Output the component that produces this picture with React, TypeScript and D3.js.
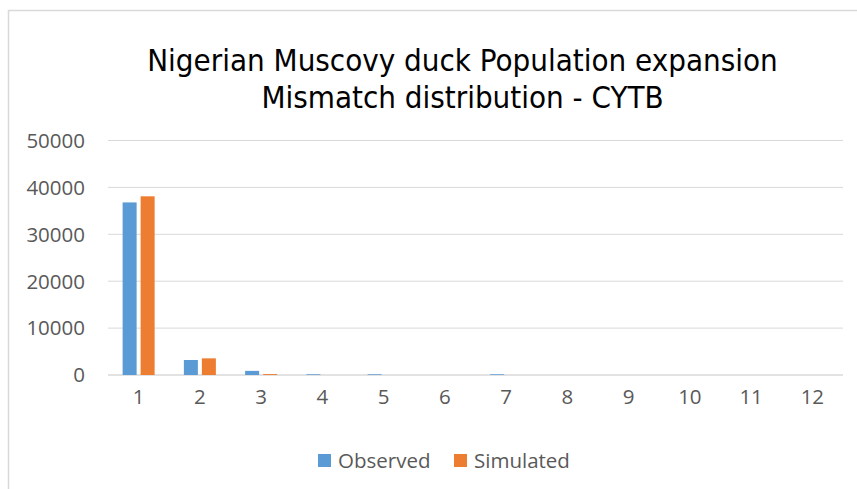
import React from "react";
import * as d3 from "d3";

const categories = ["1", "2", "3", "4", "5", "6", "7", "8", "9", "10", "11", "12"];
const observed = [36800, 3200, 880, 150, 150, 0, 150, 0, 0, 0, 0, 0];
const simulated = [38100, 3550, 200, 0, 0, 0, 0, 0, 0, 0, 0, 0];
const yTicks = [0, 10000, 20000, 30000, 40000, 50000];
const seriesNames = ["Observed", "Simulated"];
const colors = ["#5b9bd5", "#ed7d31"];
const titleLines = ["Nigerian Muscovy duck Population expansion", "Mismatch distribution - CYTB"];

export default function App() {
  const W = 857, H = 489;
  const x = d3.scaleBand<string>().domain(categories).range([108, 843]);
  const y = d3.scaleLinear().domain([0, 50000]).range([375, 140.5]);
  const barW = 14;
  const gap = 4;
  const series = [observed, simulated];
  const labelFont = "'Open Sans', sans-serif";
  return (
    <svg width={W} height={H} style={{ position: "absolute", left: 0, top: 0 }}>
      <rect x={0} y={0} width={W} height={H} fill="#fff" />
      <rect x={8.5} y={10.5} width={W + 20} height={H + 20} fill="#fff" stroke="#d9d9d9" strokeWidth={1.5} />
      {titleLines.map((t, i) => (
        <text key={i} x={462.5} y={71 + i * 37} textAnchor="middle" fontFamily="'DejaVu Sans Condensed', 'DejaVu Sans', sans-serif" fontSize={31} fill="#000">
          {t}
        </text>
      ))}
      {yTicks.map((v) => (
        <g key={v}>
          <line x1={108} x2={843} y1={y(v)} y2={y(v)} stroke="#d9d9d9" strokeWidth={v === 0 ? 1.5 : 1} />
          <text x={85} y={y(v)} dy="0.36em" textAnchor="end" fontFamily={labelFont} fontSize={20.5} fill="#595959">
            {v}
          </text>
        </g>
      ))}
      {categories.map((c, i) => {
        const cx = (x(c) as number) + x.bandwidth() / 2;
        return (
          <g key={c}>
            {series.map((s, k) => {
              const v = s[i];
              if (v <= 0) return null;
              const bx = k === 0 ? cx - gap / 2 - barW : cx + gap / 2;
              return (
                <rect key={k} x={bx} y={y(v)} width={barW} height={y(0) - y(v)} fill={colors[k]} />
              );
            })}
            <text x={cx} y={397} dy="0.36em" textAnchor="middle" fontFamily={labelFont} fontSize={20.5} fill="#595959">
              {c}
            </text>
          </g>
        );
      })}
      {seriesNames.map((n, k) => {
        const lx = k === 0 ? 318 : 454;
        return (
          <g key={n}>
            <rect x={lx} y={454} width={13} height={13} fill={colors[k]} />
            <text x={lx + 20} y={460.5} dy="0.36em" fontFamily={labelFont} fontSize={20.5} fill="#595959">
              {n}
            </text>
          </g>
        );
      })}
    </svg>
  );
}
